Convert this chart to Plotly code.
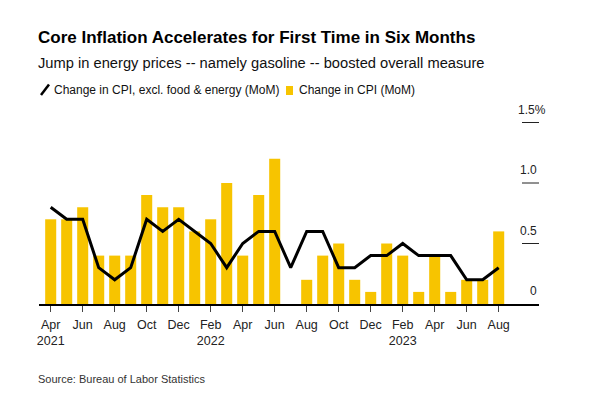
import plotly.graph_objects as go

months = ["Apr 2021", "May 2021", "Jun 2021", "Jul 2021", "Aug 2021", "Sep 2021", "Oct 2021",
          "Nov 2021", "Dec 2021", "Jan 2022", "Feb 2022", "Mar 2022", "Apr 2022", "May 2022",
          "Jun 2022", "Jul 2022", "Aug 2022", "Sep 2022", "Oct 2022", "Nov 2022", "Dec 2022",
          "Jan 2023", "Feb 2023", "Mar 2023", "Apr 2023", "May 2023", "Jun 2023", "Jul 2023",
          "Aug 2023"]
cpi = [0.7, 0.7, 0.8, 0.4, 0.4, 0.4, 0.9, 0.8, 0.8, 0.6, 0.7, 1.0, 0.4, 0.9, 1.2, 0.0,
       0.2, 0.4, 0.5, 0.2, 0.1, 0.5, 0.4, 0.1, 0.4, 0.1, 0.2, 0.2, 0.6]
core = [0.8, 0.7, 0.7, 0.3, 0.2, 0.3, 0.7, 0.6, 0.7, 0.6, 0.5, 0.3, 0.5, 0.6, 0.6, 0.3,
        0.6, 0.6, 0.3, 0.3, 0.4, 0.4, 0.5, 0.4, 0.4, 0.4, 0.2, 0.2, 0.3]
tick_idx = list(range(0, 29, 2))
tick_text = ["Apr<br>2021", "Jun", "Aug", "Oct", "Dec", "Feb<br>2022", "Apr", "Jun", "Aug",
             "Oct", "Dec", "Feb<br>2023", "Apr", "Jun", "Aug"]
y_ticks = [0, 0.5, 1.0, 1.5]
y_labels = ["0", "0.5", "1.0", "1.5%"]

title = "Core Inflation Accelerates for First Time in Six Months"
subtitle = "Jump in energy prices -- namely gasoline -- boosted overall measure"
leg_core = "Change in CPI, excl. food & energy (MoM)"
leg_cpi = "Change in CPI (MoM)"
source = "Source: Bureau of Labor Statistics"

FONT = "Liberation Sans, Arial, Helvetica, sans-serif"
YELLOW = "#F7C400"

# page offset of the plot div (default body margin)
OFF = 8
# plot area in page pixels
L, R, T, B = 39, 539, 110, 304
W, H = 600, 400


def px(x):
    return (x - L) / (R - L)


def py(y):
    return (B - y) / (B - T)


x = list(range(len(months)))

fig = go.Figure()
fig.add_trace(go.Bar(x=x, y=cpi, marker=dict(color=YELLOW, line=dict(width=0)),
                     name=leg_cpi, showlegend=False, hovertext=months))
fig.add_trace(go.Scatter(x=x, y=core, mode="lines", line=dict(color="black", width=3),
                         name=leg_core, showlegend=False, hovertext=months))

x0 = -(50.7 - L) / 16
x1 = x0 + (R - L) / 16

fig.update_layout(
    width=W, height=H,
    margin=dict(l=L - OFF, r=W - (R - OFF), t=T - OFF, b=H - (B - OFF)),
    paper_bgcolor="white", plot_bgcolor="white",
    bargap=0.31,
    font=dict(family=FONT, color="#333", size=12),
    xaxis=dict(range=[x0, x1], tickmode="array", tickvals=tick_idx, ticktext=tick_text,
               showgrid=False, zeroline=False, showline=True, linecolor="black", linewidth=1.5,
               ticks="outside", ticklen=6, tickcolor="#444", tickwidth=1,
               tickfont=dict(size=12.5, color="#222", family=FONT), ticklabelstandoff=2),
    yaxis=dict(range=[0, (B - T) / 121.0], showgrid=False, zeroline=False, showline=False,
               showticklabels=False, ticks=""),
)

shapes = []
for v in y_ticks[1:]:
    shapes.append(dict(type="line", xref="paper", yref="y", x0=px(522), x1=1, y0=v, y1=v,
                       line=dict(color="#222", width=1)))
# legend icons
shapes.append(dict(type="line", xref="paper", yref="paper", x0=px(41), x1=px(49),
                   y0=py(95), y1=py(84.5), line=dict(color="black", width=2.5)))
shapes.append(dict(type="rect", xref="paper", yref="paper", x0=px(286), x1=px(293),
                   y0=py(95), y1=py(86), line=dict(width=0), fillcolor=YELLOW))
fig.update_layout(shapes=shapes)

ann = []
for v, t in zip(y_ticks, y_labels):
    ann.append(dict(xref="paper", yref="y", x=1, y=v, text=t, showarrow=False,
                    xanchor="right", yanchor="middle", yshift=13,
                    xshift=(9 if t.endswith("%") else 0),
                    font=dict(size=12, color="#222", family=FONT)))
ann.append(dict(xref="paper", yref="paper", x=px(36), y=py(37), text="<b>" + title + "</b>",
                showarrow=False, xanchor="left", yanchor="middle",
                font=dict(size=17, color="black", family=FONT)))
ann.append(dict(xref="paper", yref="paper", x=px(36), y=py(63), text=subtitle,
                showarrow=False, xanchor="left", yanchor="middle",
                font=dict(size=14.7, color="#111", family=FONT)))
ann.append(dict(xref="paper", yref="paper", x=px(52), y=py(90), text=leg_core,
                showarrow=False, xanchor="left", yanchor="middle",
                font=dict(size=12, color="#111", family=FONT)))
ann.append(dict(xref="paper", yref="paper", x=px(297), y=py(90), text=leg_cpi,
                showarrow=False, xanchor="left", yanchor="middle",
                font=dict(size=12, color="#111", family=FONT)))
ann.append(dict(xref="paper", yref="paper", x=px(36), y=py(379), text=source,
                showarrow=False, xanchor="left", yanchor="middle",
                font=dict(size=11, color="#333", family=FONT)))
fig.update_layout(annotations=ann)

fig.write_html("out.html")
